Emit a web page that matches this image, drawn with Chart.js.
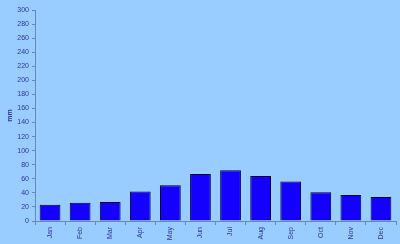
<!DOCTYPE html>
<html><head><meta charset="utf-8">
<script src="https://cdn.jsdelivr.net/npm/chart.js@4"></script>
<style>html,body{margin:0;padding:0;background:#99CCFF;}#wrap{width:400px;height:244px;}</style>
</head><body><div id="wrap"><canvas id="c" width="400" height="244"></canvas></div>
<script>
const months = ["Jan","Feb","Mar","Apr","May","Jun","Jul","Aug","Sep","Oct","Nov","Dec"];
const rainfall = [23,26,27,42,51,67,72,64,56,41,37,34];
const yTicks = {min:0, max:300, step:20};
const yTitle = "mm";

const txt = '#333399';
const axisCol = '#6688BB';
new Chart(document.getElementById('c'), {
  type:'bar',
  data:{labels:months, datasets:[{data:rainfall, backgroundColor:'#1400FF', borderColor:'#000022', borderWidth:1, barPercentage:0.69, categoryPercentage:1}]},
  options:{
    responsive:false, animation:false, devicePixelRatio:1,
    layout:{padding:{top:10,right:4,left:0,bottom:0}},
    plugins:{legend:{display:false}, tooltip:{enabled:false}},
    scales:{
      x:{
        grid:{display:true, drawOnChartArea:false, offset:true, color:axisCol, tickLength:4},
        border:{color:axisCol},
        ticks:{color:txt, font:{family:'Liberation Sans', size:7}, minRotation:90, maxRotation:90, padding:2},
        afterFit:(s)=>{s.height=23;}
      },
      y:{
        min:yTicks.min, max:yTicks.max,
        grid:{display:true, drawOnChartArea:false, color:axisCol, tickLength:3},
        border:{color:axisCol},
        ticks:{stepSize:yTicks.step, color:txt, font:{family:'Liberation Sans', size:7}, padding:3},
        title:{display:true, text:yTitle, color:txt, font:{family:'Liberation Sans', size:7, weight:'bold'}, padding:{top:6,bottom:0}},
        afterFit:(s)=>{s.width=35;}
      }
    }
  }
});
</script></body></html>
